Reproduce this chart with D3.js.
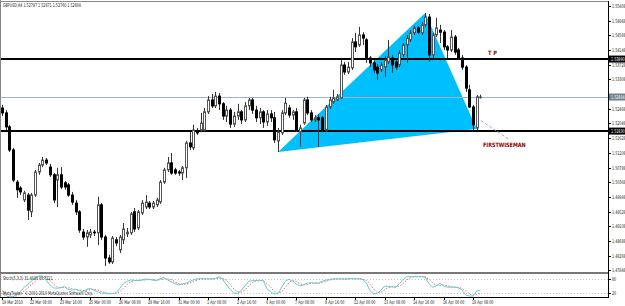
<!DOCTYPE html>
<html>
<head>
<meta charset="utf-8">
<script src="https://cdn.jsdelivr.net/npm/d3@7"></script>
<style>
  body { margin: 0; background: #fff; }
  svg { display: block; font-family: "DejaVu Sans", sans-serif; }
</style>
</head>
<body>
<div id="chart"></div>
<script>
var title = "GBPUSD,H4 1.52797 1.52871 1.52760 1.52804";
var stochTitle = "Stoch(5,3,3) 31.4680 19.7221";
var copyright = "MetaTrader - \u00a9 2001-2010 MetaQuotes Software Corp.";

var openP = [
  1.5249, 1.5235, 1.5195, 1.5129, 1.5037, 1.5020, 1.4986, 1.5000, 1.4952, 1.5000,
  1.5066, 1.5086, 1.5100, 1.5080, 1.5058, 1.5043, 1.5058, 1.5035, 1.5029, 1.5000,
  1.4977, 1.4952, 1.4894, 1.4880, 1.4886, 1.4894, 1.4892, 1.4972, 1.4880, 1.4820,
  1.4809, 1.4872, 1.4843, 1.4872, 1.4889, 1.4892, 1.4952, 1.4906, 1.4949, 1.4966,
  1.4977, 1.4966, 1.4972, 1.4980, 1.5037, 1.5072, 1.5092, 1.5072, 1.5066, 1.5063,
  1.5078, 1.5149, 1.5135, 1.5183, 1.5186, 1.5186, 1.5238, 1.5272, 1.5255, 1.5283,
  1.5261, 1.5226, 1.5243, 1.5203, 1.5226, 1.5238, 1.5215, 1.5255, 1.5272, 1.5243,
  1.5221, 1.5238, 1.5209, 1.5232, 1.5221, 1.5155, 1.5178, 1.5235, 1.5249, 1.5229,
  1.5238, 1.5180, 1.5206, 1.5272, 1.5235, 1.5215, 1.5221, 1.5221, 1.5186, 1.5252,
  1.5266, 1.5272, 1.5278, 1.5372, 1.5352, 1.5364, 1.5438, 1.5429, 1.5458, 1.5444,
  1.5392, 1.5378, 1.5366, 1.5358, 1.5366, 1.5381, 1.5392, 1.5381, 1.5372, 1.5401,
  1.5429, 1.5444, 1.5464, 1.5478, 1.5464, 1.5487, 1.5509, 1.5401, 1.5458, 1.5472,
  1.5466, 1.5424, 1.5415, 1.5452, 1.5415, 1.5392, 1.5366, 1.5301, 1.5252, 1.5192,
  1.52797
];
var highP = [
  1.5258, 1.5243, 1.5201, 1.5135, 1.5043, 1.5026, 1.5012, 1.5006, 1.5006, 1.5072,
  1.5092, 1.5109, 1.5106, 1.5089, 1.5063, 1.5078, 1.5080, 1.5040, 1.5035, 1.5009,
  1.4986, 1.4957, 1.4903, 1.4900, 1.4903, 1.4900, 1.4995, 1.4977, 1.4886, 1.4829,
  1.4883, 1.4880, 1.4886, 1.4920, 1.4906, 1.4952, 1.4963, 1.4957, 1.4986, 1.5000,
  1.4983, 1.4983, 1.4992, 1.5043, 1.5078, 1.5109, 1.5120, 1.5078, 1.5072, 1.5083,
  1.5155, 1.5180, 1.5201, 1.5192, 1.5235, 1.5249, 1.5283, 1.5289, 1.5295, 1.5292,
  1.5266, 1.5255, 1.5249, 1.5238, 1.5261, 1.5243, 1.5266, 1.5278, 1.5278, 1.5255,
  1.5249, 1.5243, 1.5243, 1.5243, 1.5238, 1.5192, 1.5243, 1.5278, 1.5258, 1.5243,
  1.5249, 1.5201, 1.5278, 1.5281, 1.5243, 1.5229, 1.5232, 1.5226, 1.5258, 1.5281,
  1.5301, 1.5289, 1.5386, 1.5381, 1.5381, 1.5449, 1.5464, 1.5481, 1.5466, 1.5449,
  1.5398, 1.5386, 1.5375, 1.5381, 1.5398, 1.5444, 1.5401, 1.5386, 1.5415, 1.5435,
  1.5458, 1.5472, 1.5484, 1.5484, 1.5495, 1.5521, 1.5518, 1.5464, 1.5507, 1.5487,
  1.5472, 1.5429, 1.5472, 1.5458, 1.5421, 1.5401, 1.5372, 1.5315, 1.5258, 1.5286,
  1.52871
];
var lowP = [
  1.5226, 1.5186, 1.5123, 1.5037, 1.4992, 1.5000, 1.4980, 1.4929, 1.4937, 1.4995,
  1.5058, 1.5080, 1.5086, 1.5052, 1.4977, 1.4966, 1.5017, 1.5015, 1.4995, 1.4972,
  1.4943, 1.4892, 1.4872, 1.4852, 1.4877, 1.4883, 1.4857, 1.4872, 1.4797, 1.4803,
  1.4803, 1.4854, 1.4834, 1.4860, 1.4880, 1.4886, 1.4894, 1.4900, 1.4943, 1.4960,
  1.4960, 1.4960, 1.4966, 1.4975, 1.5032, 1.5066, 1.5058, 1.5058, 1.5055, 1.5043,
  1.5049, 1.5129, 1.5129, 1.5172, 1.5180, 1.5180, 1.5232, 1.5249, 1.5249, 1.5243,
  1.5215, 1.5209, 1.5192, 1.5195, 1.5215, 1.5203, 1.5209, 1.5243, 1.5232, 1.5209,
  1.5203, 1.5192, 1.5198, 1.5209, 1.5149, 1.5123, 1.5172, 1.5229, 1.5221, 1.5215,
  1.5180, 1.5138, 1.5201, 1.5229, 1.5209, 1.5209, 1.5138, 1.5180, 1.5180, 1.5246,
  1.5261, 1.5269, 1.5275, 1.5344, 1.5346, 1.5358, 1.5409, 1.5424, 1.5429, 1.5378,
  1.5366, 1.5349, 1.5329, 1.5352, 1.5338, 1.5375, 1.5349, 1.5358, 1.5366, 1.5395,
  1.5378, 1.5438, 1.5458, 1.5461, 1.5458, 1.5481, 1.5381, 1.5392, 1.5452, 1.5435,
  1.5415, 1.5392, 1.5409, 1.5401, 1.5386, 1.5358, 1.5295, 1.5249, 1.5186, 1.5186,
  1.52760
];
var closeP = [
  1.5235, 1.5195, 1.5129, 1.5043, 1.5015, 1.5009, 1.5006, 1.4957, 1.5000, 1.5066,
  1.5086, 1.5100, 1.5092, 1.5058, 1.4986, 1.5058, 1.5023, 1.5023, 1.5000, 1.4980,
  1.4952, 1.4900, 1.4880, 1.4892, 1.4894, 1.4892, 1.4972, 1.4880, 1.4820, 1.4809,
  1.4877, 1.4863, 1.4880, 1.4903, 1.4894, 1.4946, 1.4903, 1.4952, 1.4977, 1.4980,
  1.4966, 1.4977, 1.4986, 1.5037, 1.5072, 1.5092, 1.5063, 1.5063, 1.5063, 1.5078,
  1.5149, 1.5138, 1.5186, 1.5178, 1.5206, 1.5238, 1.5272, 1.5255, 1.5283, 1.5261,
  1.5226, 1.5243, 1.5203, 1.5226, 1.5238, 1.5215, 1.5255, 1.5272, 1.5243, 1.5221,
  1.5238, 1.5209, 1.5232, 1.5221, 1.5158, 1.5180, 1.5235, 1.5263, 1.5229, 1.5238,
  1.5186, 1.5192, 1.5272, 1.5235, 1.5215, 1.5221, 1.5215, 1.5186, 1.5252, 1.5272,
  1.5278, 1.5281, 1.5372, 1.5352, 1.5366, 1.5438, 1.5424, 1.5458, 1.5449, 1.5392,
  1.5378, 1.5358, 1.5349, 1.5372, 1.5386, 1.5395, 1.5372, 1.5366, 1.5406, 1.5429,
  1.5449, 1.5464, 1.5478, 1.5466, 1.5487, 1.5509, 1.5401, 1.5458, 1.5478, 1.5466,
  1.5424, 1.5415, 1.5452, 1.5409, 1.5392, 1.5366, 1.5306, 1.5252, 1.5201, 1.5281,
  1.52804
];

// stochastic main (%K) and signal (%D)
var stochK = [
  19, 8, 4, 4, 15, 26, 45, 55, 72, 83,
  93, 92, 76, 55, 42, 40, 44, 47, 35, 33,
  36, 30, 26, 35, 40, 32, 26, 20, 19, 16,
  18, 21, 40, 60, 70, 76, 74, 73, 76, 80,
  78, 75, 73, 82, 86, 76, 68, 60, 55, 58,
  62, 70, 76, 80, 82, 80, 80, 80, 82, 90,
  78, 55, 35, 20, 19, 30, 50, 70, 73, 73,
  73, 73, 38, 25, 16, 17, 45, 70, 79, 70,
  58, 50, 56, 62, 64, 62, 62, 70, 75, 79,
  80, 80, 81, 80, 80, 82, 80, 81, 78, 62,
  30, 16, 20, 32, 50, 48, 46, 45, 60, 78,
  90, 90, 90, 90, 90, 88, 60, 45, 50, 62,
  50, 45, 45, 45, 42, 33, 12, 7, 7, 29,
  31.468
];
var stochD = [
  30, 20, 10, 5, 8, 15, 29, 42, 57, 70,
  83, 89, 87, 74, 58, 46, 42, 44, 42, 38,
  35, 33, 31, 30, 34, 36, 33, 26, 22, 18,
  18, 18, 26, 40, 57, 69, 73, 74, 74, 76,
  78, 78, 75, 77, 80, 81, 77, 68, 61, 58,
  58, 63, 69, 75, 79, 81, 81, 80, 81, 84,
  83, 74, 56, 37, 25, 23, 33, 50, 64, 72,
  73, 73, 61, 45, 26, 19, 26, 44, 65, 73,
  69, 59, 55, 56, 61, 63, 63, 65, 69, 75,
  78, 80, 80, 80, 80, 81, 81, 81, 80, 74,
  57, 36, 22, 23, 34, 43, 48, 46, 50, 61,
  76, 86, 90, 90, 90, 89, 79, 64, 52, 52,
  54, 52, 47, 45, 44, 40, 29, 17, 9, 14,
  19.7221
];
var stochLevels = [80, 20];

var timeBars = [0, 8, 16, 24, 32, 40, 48, 56, 64, 72, 80, 88, 96, 104, 112, 120, 128];
var timeTexts = ["19 Mar 2010", "22 Mar 08:00", "23 Mar 16:00", "25 Mar 00:00", "26 Mar 08:00",
  "29 Mar 16:00", "31 Mar 00:00", "1 Apr 08:00", "2 Apr 16:00", "6 Apr 00:00", "7 Apr 08:00",
  "8 Apr 16:00", "12 Apr 00:00", "13 Apr 08:00", "14 Apr 16:00", "16 Apr 00:00", "19 Apr 08:00"];

var priceTicks = [1.55408, 1.54988, 1.54568, 1.54148, 1.53728, 1.53308, 1.52888, 1.52468,
  1.52048, 1.51628, 1.51208, 1.50788, 1.50368, 1.49948, 1.49528, 1.49108, 1.48688, 1.48268, 1.47848];

var tpLevel = 1.53890;
var supportLevel = 1.51830;
var bidLevel = 1.52804;

var triBars = [75, 115, 129];
var triPrices = [1.5123, 1.5521, 1.5189];
var wiseBars = [129, 138];
var wisePrices = [1.5221, 1.5158];

var width = 625, height = 306;
var axisX = 608;
var sx = 0.66;  // narrow text like the reference

var svg = d3.select("#chart").append("svg")
  .attr("width", width)
  .attr("height", height);

svg.append("rect").attr("width", width).attr("height", height).attr("fill", "#fff");

var x = d3.scaleLinear().domain([0, 128]).range([2, 473.04]);
var y = d3.scaleLinear().domain([1.47848, 1.55408]).range([270.3, 6]);
var ys = d3.scaleLinear().domain([0, 100]).range([297.7, 274.3]);

function txt(g, px, py, s, size, color, weight) {
  return g.append("text")
    .attr("transform", "translate(" + px + "," + py + ") scale(" + sx + ",1)")
    .attr("font-size", size || 5)
    .attr("font-weight", weight || "normal")
    .attr("fill", color || "#222")
    .text(s);
}

var main = svg.append("g");
main.append("clipPath").attr("id", "clipMain")
  .append("rect").attr("x", 1).attr("y", 2).attr("width", axisX - 1).attr("height", 270);
var plot = main.append("g").attr("clip-path", "url(#clipMain)");

// triangle (drawn behind the bars)
var tri = triBars.map(function(b, i) { return [x(b), y(triPrices[i])]; });
plot.append("path")
  .attr("d", d3.line()(tri) + "Z")
  .attr("fill", "#00bfff");

// horizontal lines
plot.append("line")
  .attr("x1", 1).attr("x2", axisX)
  .attr("y1", Math.round(y(bidLevel)) + 0.5).attr("y2", Math.round(y(bidLevel)) + 0.5)
  .attr("stroke", "#9fb3c4").attr("stroke-width", 1);
[tpLevel, supportLevel].forEach(function(v) {
  plot.append("line")
    .attr("x1", 1).attr("x2", axisX)
    .attr("y1", Math.round(y(v))).attr("y2", Math.round(y(v)))
    .attr("stroke", "#000").attr("stroke-width", 2);
});

// dashed trend line
plot.append("line")
  .attr("x1", x(wiseBars[0])).attr("y1", y(wisePrices[0]))
  .attr("x2", x(wiseBars[1])).attr("y2", y(wisePrices[1]))
  .attr("stroke", "#a99ed8").attr("stroke-width", 1)
  .attr("stroke-dasharray", "3,2");

// candles
var bars = d3.range(closeP.length);
var candle = plot.selectAll("g.candle")
  .data(bars)
  .enter()
  .append("g")
  .attr("class", "candle");

candle.append("line")
  .attr("x1", function(i) { return Math.round(x(i)) + 0.5; })
  .attr("x2", function(i) { return Math.round(x(i)) + 0.5; })
  .attr("y1", function(i) { return y(highP[i]); })
  .attr("y2", function(i) { return y(lowP[i]); })
  .attr("stroke", "#333")
  .attr("stroke-width", 1);

candle.append("rect")
  .attr("x", function(i) { return Math.round(x(i)) - 0.5; })
  .attr("width", 2)
  .attr("y", function(i) { return Math.min(y(openP[i]), y(closeP[i])); })
  .attr("height", function(i) { return Math.max(0.6, Math.abs(y(openP[i]) - y(closeP[i]))); })
  .attr("fill", function(i) { return closeP[i] >= openP[i] ? "#fff" : "#000"; })
  .attr("stroke", function(i) { return closeP[i] >= openP[i] ? "#555" : "#000"; })
  .attr("stroke-width", 1);

// object labels
txt(main, 488, 55, "T P", 6, "#8b0000", "bold").attr("transform", "translate(488,55) scale(0.85,1)");
txt(main, 483, 147, "FIRSTWISEMAN", 6, "#8b0000", "bold").attr("transform", "translate(483,147) scale(0.82,1)");

txt(main, 3, 7, title, 5, "#222");

// price axis; tick labels under a highlighted level label are hidden, as in the terminal
var marked = [[tpLevel, "#000"], [bidLevel, "#6f8191"], [supportLevel, "#000"]];
var pa = svg.append("g");
priceTicks.forEach(function(v) {
  var py = Math.round(y(v));
  pa.append("line").attr("x1", axisX).attr("x2", axisX + 3)
    .attr("y1", py + 0.5).attr("y2", py + 0.5).attr("stroke", "#000");
  var hidden = marked.some(function(m) { return Math.abs(y(m[0]) - y(v)) < 5; });
  if (!hidden) txt(pa, 612, py + 2, d3.format(".5f")(v), 5, "#222");
});

marked.forEach(function(d) {
  var py = y(d[0]);
  pa.append("rect").attr("x", axisX + 1).attr("y", py - 3.5)
    .attr("width", width - axisX - 1).attr("height", 7).attr("fill", d[1]);
  txt(pa, 611, py + 2, d3.format(".5f")(d[0]), 5, "#fff");
});

// window frame
svg.append("line").attr("x1", 0.5).attr("x2", 0.5).attr("y1", 0).attr("y2", 298).attr("stroke", "#888");
svg.append("line").attr("x1", 0).attr("x2", axisX).attr("y1", 1.5).attr("y2", 1.5).attr("stroke", "#888");
svg.append("line").attr("x1", axisX + 0.5).attr("x2", axisX + 0.5).attr("y1", 1).attr("y2", 298).attr("stroke", "#000");
svg.append("rect").attr("x", 0).attr("y", 272).attr("width", axisX).attr("height", 2).attr("fill", "#777");
svg.append("line").attr("x1", 0).attr("x2", axisX + 1).attr("y1", 297.5).attr("y2", 297.5).attr("stroke", "#000");

// stochastic window
var sw = svg.append("g");
stochLevels.forEach(function(v) {
  sw.append("line").attr("x1", 1).attr("x2", axisX)
    .attr("y1", Math.round(ys(v)) + 0.5).attr("y2", Math.round(ys(v)) + 0.5)
    .attr("stroke", "#c8c8c8").attr("stroke-dasharray", "1,2");
  sw.append("line").attr("x1", axisX).attr("x2", axisX + 3)
    .attr("y1", Math.round(ys(v)) + 0.5).attr("y2", Math.round(ys(v)) + 0.5).attr("stroke", "#000");
  txt(sw, 612, ys(v) + 2, String(v), 5, "#222");
});

var sline = d3.line()
  .x(function(d, i) { return x(i); })
  .y(function(d) { return ys(d); })
  .curve(d3.curveLinear);

sw.append("path").attr("d", sline(stochD))
  .attr("fill", "none").attr("stroke", "#f36a6a").attr("stroke-width", 1)
  .attr("stroke-dasharray", "1.5,1.5");
sw.append("path").attr("d", sline(stochK))
  .attr("fill", "none").attr("stroke", "#5cd0d0").attr("stroke-width", 1);

txt(sw, 3, 280, stochTitle, 5, "#222");
txt(sw, 3, 295, copyright, 5, "#222");

// time axis
var ta = svg.append("g");
timeBars.forEach(function(b, k) {
  var px = Math.round(x(b));
  ta.append("line").attr("x1", px + 0.5).attr("x2", px + 0.5)
    .attr("y1", 297).attr("y2", 300).attr("stroke", "#000");
  txt(ta, k === 0 ? 2 : px - 1, 304, timeTexts[k], 5, "#222");
});
</script>
</body>
</html>
